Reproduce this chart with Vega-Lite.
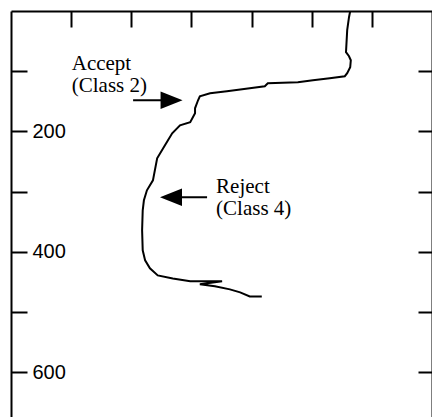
{
  "$schema": "https://vega.github.io/schema/vega-lite/v6.json",
  "autosize": "none",
  "padding": {"left": 11, "top": 11, "right": 0, "bottom": 0},
  "width": 421,
  "height": 406,
  "background": "white",
  "config": {"view": {"stroke": null}},
  "datasets": {
    "curve": [
      {"i": 1, "x": 5.64, "depth": 0},
      {"i": 2, "x": 5.62, "depth": 10.3},
      {"i": 3, "x": 5.59, "depth": 31.9},
      {"i": 4, "x": 5.57, "depth": 68.4},
      {"i": 5, "x": 5.62, "depth": 75.1},
      {"i": 6, "x": 5.65, "depth": 81.7},
      {"i": 7, "x": 5.64, "depth": 93.4},
      {"i": 8, "x": 5.59, "depth": 103.3},
      {"i": 9, "x": 5.55, "depth": 108.3},
      {"i": 10, "x": 5.30, "depth": 111.6},
      {"i": 11, "x": 5.02, "depth": 115.0},
      {"i": 12, "x": 4.77, "depth": 118.3},
      {"i": 13, "x": 4.27, "depth": 120.0},
      {"i": 14, "x": 4.22, "depth": 124.9},
      {"i": 15, "x": 3.97, "depth": 128.2},
      {"i": 16, "x": 3.59, "depth": 133.2},
      {"i": 17, "x": 3.31, "depth": 136.5},
      {"i": 18, "x": 3.14, "depth": 141.5},
      {"i": 19, "x": 3.11, "depth": 148.2},
      {"i": 20, "x": 3.06, "depth": 161.5},
      {"i": 21, "x": 3.06, "depth": 169.8},
      {"i": 22, "x": 2.98, "depth": 184.7},
      {"i": 23, "x": 2.81, "depth": 189.7},
      {"i": 24, "x": 2.68, "depth": 203.0},
      {"i": 25, "x": 2.56, "depth": 222.9},
      {"i": 26, "x": 2.43, "depth": 244.5},
      {"i": 27, "x": 2.36, "depth": 281.1},
      {"i": 28, "x": 2.26, "depth": 297.7},
      {"i": 29, "x": 2.21, "depth": 314.3},
      {"i": 30, "x": 2.19, "depth": 330.9},
      {"i": 31, "x": 2.18, "depth": 364.1},
      {"i": 32, "x": 2.19, "depth": 397.3},
      {"i": 33, "x": 2.23, "depth": 414.0},
      {"i": 34, "x": 2.31, "depth": 427.2},
      {"i": 35, "x": 2.44, "depth": 438.9},
      {"i": 36, "x": 2.69, "depth": 443.9},
      {"i": 37, "x": 2.98, "depth": 448.8},
      {"i": 38, "x": 3.51, "depth": 448.8},
      {"i": 39, "x": 3.14, "depth": 453.8},
      {"i": 40, "x": 3.39, "depth": 457.1},
      {"i": 41, "x": 3.64, "depth": 462.1},
      {"i": 42, "x": 3.81, "depth": 467.1},
      {"i": 43, "x": 3.97, "depth": 473.8},
      {"i": 44, "x": 4.17, "depth": 473.8}
    ],
    "arrows": [
      {"x1": 2.03, "x2": 2.60, "depth": 148.2, "hx": 2.67, "shape": "M-1,-0.8L1,0L-1,0.8Z"},
      {"x1": 2.72, "x2": 3.26, "depth": 309.3, "hx": 2.66, "shape": "M1,-0.8L-1,0L1,0.8Z"}
    ],
    "labels": [
      {"x": 1.01, "depth": 98.3, "text": "Accept"},
      {"x": 1.01, "depth": 134.9, "text": "(Class 2)"},
      {"x": 3.41, "depth": 302.7, "text": "Reject"},
      {"x": 3.41, "depth": 339.2, "text": "(Class 4)"}
    ]
  },
  "resolve": {"axis": {"y": "independent"}, "scale": {"y": "shared"}},
  "layer": [
    {
      "data": {"name": "curve"},
      "mark": {"type": "line", "color": "black", "strokeWidth": 2, "clip": true},
      "encoding": {
        "x": {
          "field": "x", "type": "quantitative",
          "scale": {"domain": [0, 7], "nice": false, "zero": false},
          "axis": {
            "orient": "top", "values": [1, 2, 3, 4, 5, 6], "labels": false, "title": null,
            "grid": false, "tickSize": -16, "tickWidth": 2, "tickColor": "black",
            "domainColor": "black", "domainWidth": 2
          }
        },
        "y": {
          "field": "depth", "type": "quantitative",
          "scale": {"domain": [0, 674], "nice": false, "zero": false, "reverse": true},
          "axis": {
            "orient": "left", "values": [100, 200, 300, 400, 500, 600],
            "labelExpr": "datum.value % 200 == 0 ? datum.label : ''",
            "title": null, "grid": false, "tickSize": -16, "tickWidth": 2, "tickColor": "black",
            "domainColor": "black", "domainWidth": 2,
            "labelAlign": "left", "labelPadding": -5, "labelBaseline": "middle",
            "labelFont": "Liberation Sans", "labelFontSize": 20, "labelColor": "black"
          }
        },
        "order": {"field": "i", "type": "quantitative"}
      }
    },
    {
      "data": {"name": "arrows"},
      "mark": {"type": "rule", "color": "black", "strokeWidth": 2},
      "encoding": {
        "x": {"field": "x1", "type": "quantitative"},
        "x2": {"field": "x2"},
        "y": {
          "field": "depth", "type": "quantitative",
          "axis": {
            "orient": "right", "values": [100, 200, 300, 400, 500, 600], "labels": false,
            "title": null, "grid": false, "tickSize": -14, "tickWidth": 2, "tickColor": "black",
            "domainColor": "black", "domainWidth": 2
          }
        }
      }
    },
    {
      "data": {"name": "arrows"},
      "mark": {"type": "point", "filled": true, "color": "black", "opacity": 1, "size": 484},
      "encoding": {
        "x": {"field": "hx", "type": "quantitative"},
        "y": {"field": "depth", "type": "quantitative", "axis": null},
        "shape": {"field": "shape", "type": "nominal", "scale": null, "legend": null}
      }
    },
    {
      "data": {"name": "labels"},
      "mark": {"type": "text", "align": "left", "baseline": "alphabetic", "font": "Liberation Serif", "fontSize": 21, "color": "black"},
      "encoding": {
        "x": {"field": "x", "type": "quantitative"},
        "y": {"field": "depth", "type": "quantitative", "axis": null},
        "text": {"field": "text", "type": "nominal"}
      }
    }
  ]
}
